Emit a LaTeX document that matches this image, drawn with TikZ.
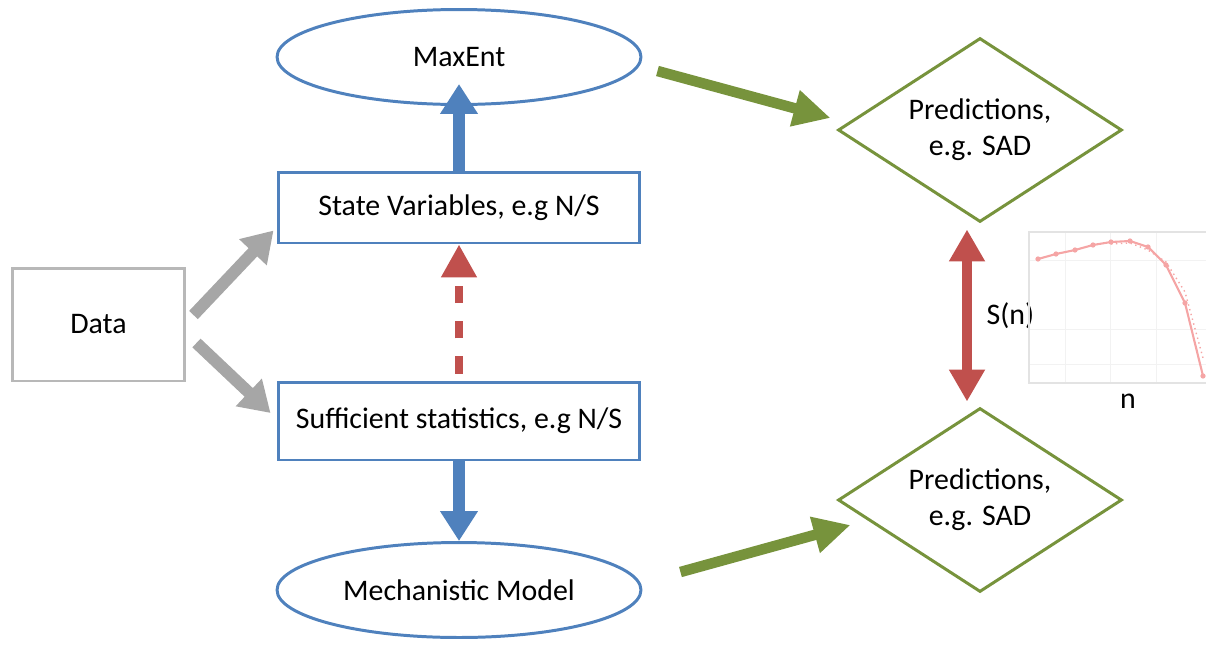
\documentclass[tikz,border=0pt]{standalone}
\usepackage{fontspec}
\setmainfont{Carlito}
\usetikzlibrary{shapes.geometric,arrows.meta}
\definecolor{boxblue}{RGB}{79,129,189}
\definecolor{predgreen}{RGB}{119,147,60}
\definecolor{arrred}{RGB}{192,80,77}
\definecolor{arrgray}{RGB}{166,166,166}
\definecolor{plotred}{RGB}{245,165,165}
\begin{document}
\begin{tikzpicture}[x=0.02cm,y=-0.02cm,
  every node/.style={font=\fontsize{17}{20.5}\selectfont},
  bluebox/.style={draw=boxblue,line width=1.7pt,inner sep=0pt,minimum width=7.24cm},
  blueoval/.style={ellipse,draw=boxblue,line width=1.7pt,inner sep=0pt,minimum width=7.28cm,minimum height=1.9cm},
  pred/.style={diamond,draw=predgreen,line width=1.7pt,inner sep=0pt,aspect=1.54,minimum width=5.68cm,minimum height=3.68cm,align=center},
  bluearr/.style={draw=boxblue,line width=6.8pt,-{Triangle[length=0.6cm,width=0.72cm]}},
  grayarr/.style={draw=arrgray,line width=6.8pt,-{Triangle[length=0.6cm,width=0.72cm]}},
  greenarr/.style={draw=predgreen,line width=6pt,-{Triangle[length=0.74cm,width=0.7cm]}},
  redarr/.style={draw=arrred,line width=5.7pt,{Triangle[length=0.64cm,width=0.68cm]}-{Triangle[length=0.64cm,width=0.68cm]}}]
\useasboundingbox (0,0) rectangle (1206,646);
\node[draw=arrgray!80,line width=1.7pt,inner sep=0pt,minimum width=3.46cm,minimum height=2.26cm] (data) at (98.5,324.5) {Data};
\node[bluebox,minimum height=1.42cm] (state) at (459,207.5) {State Variables, e.g N/S};
\node[bluebox,minimum height=1.56cm] (suff) at (459,421) {Sufficient statistics, e.g N/S};
\node[blueoval] (maxent) at (459,57) {MaxEnt};
\node[blueoval] (mech) at (459,590) {Mechanistic Model};
\node[pred] (predtop) at (980,130) {Predictions,\\e.g. SAD};
\node[pred] (predbot) at (980,500) {Predictions,\\e.g. SAD};
\draw[bluearr] (state.north) -- ([yshift=0.44cm]maxent.south);
\draw[bluearr] (suff.south) -- (mech.north);
\draw[draw=arrred,line width=4.5pt,dash pattern=on 10pt off 10pt,-{Triangle[length=0.66cm,width=0.68cm]}]
  ([yshift=0.14cm]suff.north) -- (state.south);
\draw[grayarr] ([shift={(0.14cm,0.19cm)}]data.east) -- ([shift={(-0.06cm,0.28cm)}]state.south west);
\draw[grayarr] ([shift={(0.2cm,-0.37cm)}]data.east) -- ([shift={(-0.12cm,0.16cm)}]suff.west);
\draw[greenarr] ([shift={(0.3cm,-0.28cm)}]maxent.east) -- ([shift={(-0.12cm,0.24cm)}]predtop.west);
\draw[greenarr] ([shift={(0.76cm,0.36cm)}]mech.east) -- ([shift={(0.28cm,-0.5cm)}]predbot.west);
\draw[redarr] ([shift={(-0.26cm,-0.12cm)}]predtop.south) -- ([shift={(-0.26cm,0.1cm)}]predbot.north)
  node[midway,right=5pt] (sn) {S(n)};
% small S(n) plot
\draw[gray!10,line width=0.4pt] (1065,232) -- (1065,383) (1110,232) -- (1110,383) (1156,232) -- (1156,383)
  (1029,260) -- (1206,260) (1029,329) -- (1206,329) (1029,364) -- (1206,364);
\draw[gray!22,line width=0.6pt] (1206,232) -- (1029,232) -- (1029,383) -- (1206,383);
\draw[plotred,line width=1.2pt] (1038,259) -- (1056,254) -- (1075,250) -- (1093,245) -- (1111,242) -- (1130,241)
  -- (1148,247) -- (1166,265) -- (1185,303) -- (1203,376);
\draw[plotred,line width=0.8pt,dotted] (1111,244) -- (1130,243) -- (1148,250) -- (1166,262) -- (1185,292) -- (1203,358);
\foreach \px/\py in {1038/259,1056/254,1075/250,1093/245,1111/242,1130/241,1148/247,1166/265,1185/303,1203/376}
  \fill[plotred] (\px,\py) circle (1.5pt);
\node (nlab) at (1128,401) {n};
\end{tikzpicture}
\end{document}
